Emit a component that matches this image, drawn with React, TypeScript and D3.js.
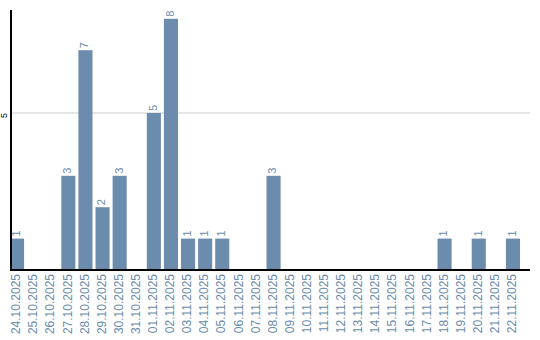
import React from "react";
import * as d3 from "d3";

const categories = [
  "24.10.2025","25.10.2025","26.10.2025","27.10.2025","28.10.2025","29.10.2025","30.10.2025","31.10.2025",
  "01.11.2025","02.11.2025","03.11.2025","04.11.2025","05.11.2025","06.11.2025","07.11.2025","08.11.2025",
  "09.11.2025","10.11.2025","11.11.2025","12.11.2025","13.11.2025","14.11.2025","15.11.2025","16.11.2025",
  "17.11.2025","18.11.2025","19.11.2025","20.11.2025","21.11.2025","22.11.2025",
];
const values = [1,0,0,3,7,2,3,0,5,8,1,1,1,0,0,3,0,0,0,0,0,0,0,0,0,1,0,1,0,1];
const yTicks = [5];

const W = 540, H = 340;
const left = 10, base = 270, top = 10;
const step = 17;
const barColor = "#6b8cac";
const font = "'Liberation Sans', Arial, sans-serif";

export default function App() {
  const x = d3.scaleBand<string>()
    .domain(categories)
    .range([left, left + step * categories.length])
    .paddingInner(3 / 17)
    .paddingOuter(0)
    .align(0);
  const y = d3.scaleLinear().domain([0, 8.28]).range([base, top]);
  const bw = x.bandwidth();
  return (
    <svg width={W} height={H} style={{ position: "absolute", left: 0, top: 0, background: "#fff" }}>
      {yTicks.map((t) => (
        <g key={t}>
          <line x1={left} x2={530} y1={y(t)} y2={y(t)} stroke="#cccccc" strokeWidth={1} />
          <text transform={`translate(5,${y(t) + 2.5}) rotate(-90)`} textAnchor="middle" dominantBaseline="middle" fontSize={9} fontFamily={font} fill="#000">{t}</text>
        </g>
      ))}
      {categories.map((c, i) => {
        const v = values[i];
        const cx = (x(c) as number) + bw / 2;
        return (
          <g key={c}>
            {v > 0 && (
              <rect x={x(c)} y={y(v)} width={bw} height={base - y(v)} fill={barColor} />
            )}
            {v > 0 && (
              <text transform={`translate(${cx},${y(v) - 2}) rotate(-90)`} textAnchor="start" dominantBaseline="middle" fontSize={11} fontFamily={font} fill={barColor}>{v}</text>
            )}
            <text transform={`translate(${cx},${base + 4}) rotate(-90)`} textAnchor="end" dominantBaseline="middle" fontSize={12} fontFamily={font} fill={barColor}>{c}</text>
          </g>
        );
      })}
      <line x1={left + 1} x2={left + 1} y1={top} y2={base} stroke="#000" strokeWidth={2} />
      <line x1={left} x2={530} y1={base} y2={base} stroke="#000" strokeWidth={2} />
    </svg>
  );
}
